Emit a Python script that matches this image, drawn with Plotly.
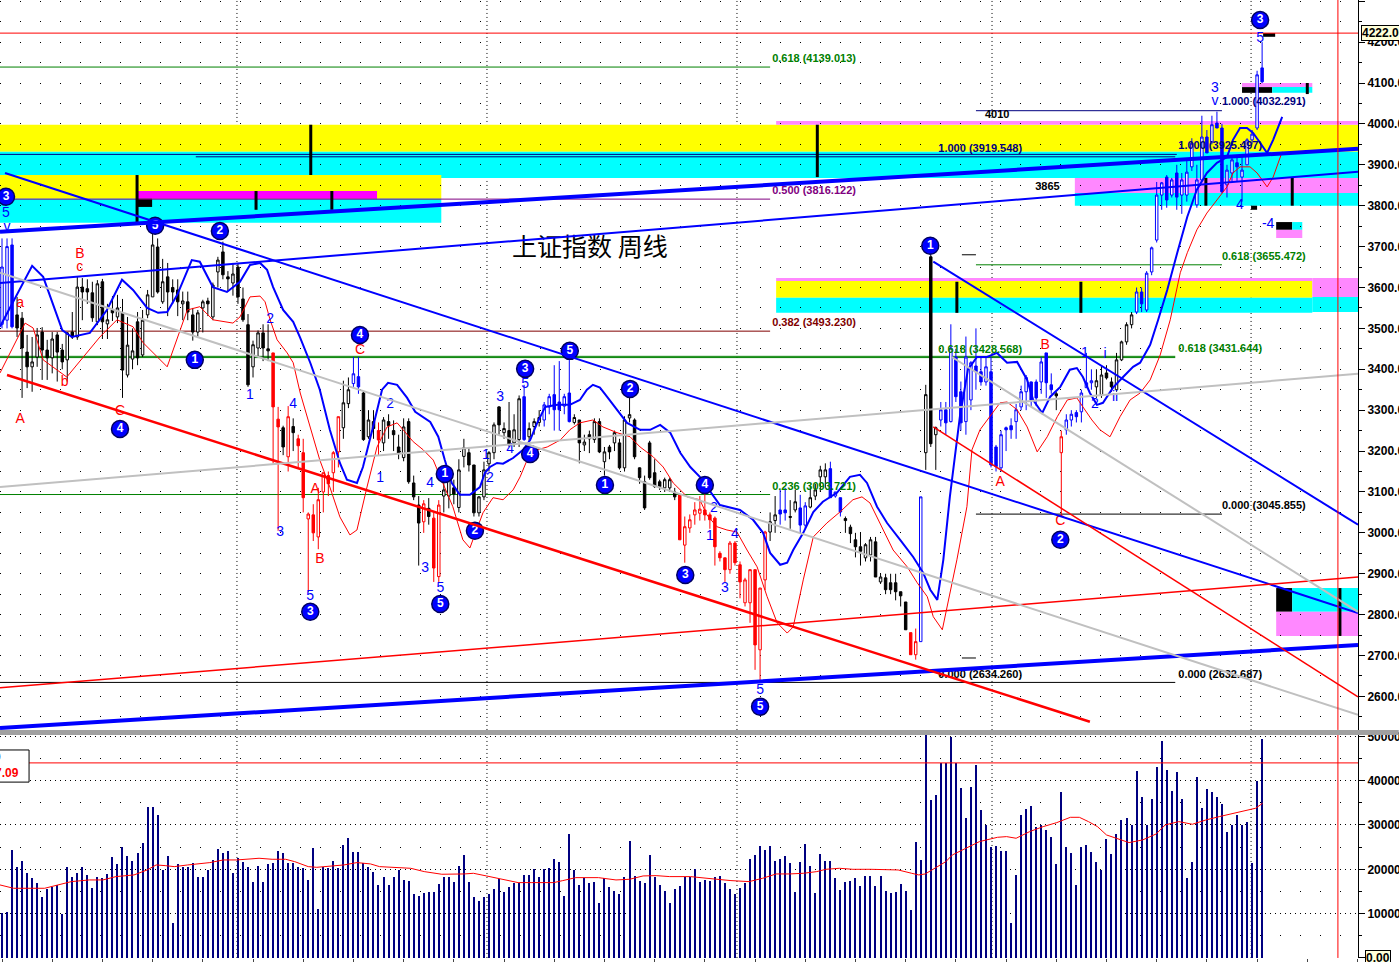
import plotly.graph_objects as go

# ---------------- DATA ----------------
opens = [3510,3520,3704,3533,3525,3442,3406,3430,3491,3447,3428,3484,3447,3423,3491,3479,3601,3597,3587,3516,
         3614,3511,3545,3528,3538,3386,3425,3516,3435,3533,3577,3699,3565,3626,3600,3594,3560,3565,3533,3491,
         3550,3567,3528,3638,3687,3626,3611,3650,3572,3509,3406,3452,3489,3450,3440,3278,3257,3186,3260,3230,
         3196,3034,3044,2990,3100,3140,3147,3198,3257,3316,3365,3382,3342,3235,3272,3250,3220,3272,3250,3210,
         3184,3272,3122,3068,3027,3060,3036,2893,3090,3090,3110,3062,3187,3196,3166,3049,3088,3169,3196,3308,
         3245,3250,3220,3228,3333,3235,3260,3270,3276,3308,3338,3320,3310,3342,3270,3276,3215,3240,3228,3272,
         3174,3210,3220,3220,3159,3281,3276,3159,3125,3220,3147,3125,3110,3110,3100,3093,2970,3012,3044,3048,
         3056,3044,3036,2950,2939,2910,2975,2922,2829,2829,2910,2714,2885,3002,3030,3056,3056,3040,3056,3061,
         3019,3063,3090,3137,3137,3157,3090,3086,3035,3014,2983,2966,2939,2946,2978,2880,2890,2878,2878,2856,
         2831,2756,2702,2734,3196,3675,3240,3276,3301,3272,3430,3345,3272,3325,3408,3394,3369,3394,3210,3159,
         3257,3262,3272,3308,3345,3369,3369,3369,3440,3362,3340,3196,3252,3276,3294,3296,3355,3367,3357,3337,
         3391,3369,3350,3423,3467,3509,3540,3589,3545,3638,3716,3826,3870,3826,3880,3826,3826,3895,3802,3863,
         3968,3956,4002,3990,3851,3880,3905,3870,3900,3961,3990,4137]
highs = [3720,3720,3720,3577,3540,3484,3479,3501,3503,3472,3491,3491,3462,3491,3540,3626,3623,3620,3614,3618,
         3621,3560,3579,3582,3572,3528,3500,3540,3545,3594,3740,3720,3670,3660,3620,3620,3590,3590,3550,3545,
         3570,3575,3612,3675,3712,3640,3660,3660,3600,3535,3470,3495,3510,3510,3440,3308,3262,3310,3280,3240,
         3230,3050,3070,3110,3147,3150,3200,3284,3372,3380,3430,3430,3345,3300,3300,3270,3283,3290,3275,3240,
         3280,3280,3140,3090,3080,3085,3050,3080,3150,3160,3130,3180,3230,3210,3166,3090,3174,3200,3270,3310,
         3270,3320,3290,3336,3362,3270,3280,3300,3320,3340,3410,3420,3340,3440,3290,3276,3240,3250,3280,3280,
         3210,3215,3250,3230,3285,3330,3280,3160,3140,3225,3180,3130,3135,3135,3110,3093,3040,3045,3075,3090,
         3095,3050,3040,2955,2939,2980,2980,2930,2890,2910,2910,2865,3005,3050,3090,3105,3110,3080,3105,3093,
         3075,3115,3120,3164,3170,3174,3100,3086,3040,3020,3000,3000,2975,2990,2990,2900,2900,2900,2900,2856,
         2831,2756,2766,3088,3362,3680,3260,3320,3320,3510,3450,3370,3480,3420,3500,3430,3430,3430,3215,3250,
         3260,3280,3315,3360,3386,3370,3375,3430,3440,3390,3345,3250,3290,3300,3300,3350,3440,3400,3400,3410,
         3410,3380,3440,3470,3515,3540,3600,3600,3640,3700,3858,3858,3875,3868,3900,3880,3910,3965,3900,4020,
         3985,4020,4030,4000,3900,3920,3920,3920,3965,3985,4130,4200]
lows = [3500,3500,3500,3479,3330,3354,3345,3406,3374,3374,3390,3370,3400,3370,3474,3472,3520,3560,3516,3508,
        3474,3474,3518,3513,3330,3380,3400,3410,3430,3525,3577,3585,3560,3530,3560,3530,3520,3520,3470,3480,
        3490,3530,3520,3600,3620,3590,3580,3560,3516,3357,3380,3430,3420,3420,3170,3005,3190,3150,3200,3160,
        3050,2856,2980,2960,3050,3090,3100,3160,3230,3305,3357,3340,3225,3230,3230,3190,3200,3230,3200,3180,
        3175,3120,3080,2920,3000,3020,2880,2880,3050,3060,3070,3050,3160,3150,3040,3040,3080,3150,3180,3240,
        3230,3210,3210,3210,3225,3200,3240,3260,3260,3290,3250,3250,3290,3270,3265,3170,3200,3195,3220,3195,
        3140,3180,3200,3155,3150,3270,3180,3120,3056,3130,3110,3105,3100,3100,3080,2983,2927,3000,3020,3030,
        3030,3010,2920,2930,2880,2900,2920,2840,2820,2780,2665,2638,2860,2980,3000,3020,3030,3010,3050,3000,
        3010,3060,3080,3100,3110,3086,3086,3040,3000,2975,2940,2920,2930,2930,2892,2875,2850,2850,2835,2820,
        2763,2702,2690,2734,3154,3210,3154,3260,3240,3270,3320,3250,3240,3300,3350,3360,3360,3160,3150,3150,
        3200,3230,3230,3300,3300,3310,3310,3340,3330,3340,3300,3040,3240,3260,3270,3270,3355,3350,3330,3330,
        3375,3345,3345,3420,3460,3500,3535,3540,3540,3630,3710,3790,3795,3820,3790,3780,3810,3885,3795,3860,
        3929,3950,3990,3830,3820,3860,3860,3810,3900,3950,3985,4100]
closes = [3650,3700,3504,3501,3452,3406,3418,3484,3447,3428,3474,3442,3418,3489,3479,3601,3589,3589,3526,3609,
          3516,3521,3538,3550,3398,3459,3445,3428,3520,3582,3704,3589,3614,3589,3589,3565,3567,3540,3491,3538,
          3565,3560,3606,3667,3631,3621,3633,3577,3521,3362,3460,3489,3452,3445,3308,3259,3210,3284,3245,3213,
          3086,3046,3000,3081,3147,3120,3196,3284,3318,3350,3389,3357,3228,3276,3255,3227,3276,3262,3240,3195,
          3259,3125,3088,3024,3071,3040,2914,3068,3105,3130,3095,3154,3208,3166,3049,3088,3154,3196,3264,3264,
          3255,3215,3252,3328,3228,3255,3272,3282,3313,3333,3301,3301,3333,3272,3282,3220,3222,3230,3272,3198,
          3198,3198,3245,3159,3276,3289,3186,3135,3061,3135,3113,3113,3130,3130,3088,2983,3015,3032,3056,3058,
          3044,3032,2966,2939,2910,2975,2927,2880,2885,2910,2726,2865,3002,3027,3044,3046,3049,3038,3076,3019,
          3066,3086,3105,3154,3154,3086,3100,3051,3030,2998,2966,2955,2971,2983,2892,2892,2861,2861,2856,2846,
          2763,2702,2734,3088,3338,3218,3257,3301,3269,3452,3333,3269,3430,3416,3394,3369,3406,3166,3162,3240,
          3252,3252,3301,3345,3380,3325,3330,3418,3367,3350,3335,3235,3276,3290,3284,3342,3367,3372,3372,3386,
          3379,3357,3423,3467,3509,3533,3589,3560,3635,3697,3826,3856,3814,3863,3821,3863,3882,3953,3863,3968,
          3929,3998,3990,3834,3887,3912,3895,3887,3961,3975,4120,4103]
# candle colour groups (k = black, r = red, b = blue) as (group, run length)
color_runs = [("b",3),("k",51),("r",2),("k",1),("r",1),("k",1),("r",9),("k",2),("b",2),("k",3),("r",1),
              ("k",8),("r",1),("k",1),("r",2),("k",16),("b",1),("k",3),("b",6),("k",21),("r",18),("k",2),
              ("b",2),("k",2),("b",2),("k",4),("b",3),("k",13),("r",2),("b",1),("k",3),("b",23),("k",1),
              ("r",1),("b",6),("k",8),("b",26)]
volumes = [10100,10450,24370,20600,21880,19100,17970,16850,13840,15490,16090,16470,9850,20600,18350,19100,20600,18730,15720,18350,
           17970,18950,22860,21210,24970,23010,21880,23760,25870,33990,33990,32260,19850,23010,7970,21210,20600,20600,21510,18350,
           18350,19850,22110,24520,23610,24140,19100,22490,21730,20600,17220,20760,17220,21130,21360,24210,23760,21360,21510,20600,
           20230,17600,24740,10980,20600,20230,21880,20230,25490,27000,23990,23990,21360,20600,19480,16470,18350,16470,18350,19850,
           17600,17450,14360,13990,14740,14970,14970,16690,18350,18350,17220,20760,23240,17220,13840,12860,13840,14360,15490,17750,
           14890,16090,17000,16850,18650,18650,20000,18200,20000,20380,22410,21730,13990,27900,19850,16470,18120,17000,17220,12480,
           17970,16090,15190,14360,18350,26400,18570,17370,17000,23240,18350,16470,15120,12330,15490,16240,18350,18350,20000,
           17220,17600,17370,18350,18500,16850,15490,14440,15720,16850,22260,23240,25270,24370,25270,21880,22260,23010,21510,14810,
           21660,25640,20760,14590,23390,21880,21880,18120,15340,17220,17370,18120,16240,18500,18500,16240,18570,15120,14740,14970,
           16690,15120,10830,26250,22110,50700,35650,36770,43920,43920,49930,43920,38280,31510,38650,43540,33390,30010,25120,25270,
           24210,24140,7820,18730,32260,33610,34290,29630,30010,28880,27370,21210,37530,25120,23610,16470,24970,25490,23840,21730,
           19850,26850,23460,27970,31130,31660,30010,42190,36400,30010,35870,43170,48960,42410,37680,42040,35870,17970,21580,40910,
           33770,38050,37450,36400,34740,28500,30010,32260,30010,30760,21360,39930,49330]

# displaced moving averages (week index, price)
blue_ma_x = [-0.4,6.0,8.2,12.0,13.9,17.5,20.9,23.9,26.1,28.9,31.1,32.9,34.9,37.8,39.4,42.0,44.8,47.4,49.4,51.4,52.8,54.0,
             56.0,58.0,59.4,61.4,63.3,65.3,67.3,68.7,70.7,71.9,73.9,75.7,76.9,78.7,80.7,82.3,85.3,86.9,88.2,89.6,91.2,
             93.2,95.2,96.2,97.2,98.6,99.8,101.8,103.8,105.2,106.6,108.2,110.6,113.1,115.1,116.5,117.7,119.1,120.5,
             122.5,124.5,127.1,129.1,131.1,133.1,135.1,137.1,139.0,140.4,143.0,147.0,149.6,151.6,153.0,155.0,156.4,
             157.6,159.6,161.6,163.5,166.3,168.9,170.9,172.3,174.3,176.3,178.9,181.5,183.5,184.9,186.3,187.5,188.8,
             190.8,192.4,194.2,196.2,198.2,200.2,202.2,204.2,205.4,207.2,208.8,210.8,212.7,214.1,215.3,216.7,218.1,
             219.3,221.3,223.3,225.3,226.7,228.7,230.3,232.1,234.1,236.1,238.0,240.0,242.0,244.0,245.2,246.6,248.0,
             249.2,250.6,252.0,253.2,255.0]
blue_ma_y = [3504,3653,3626,3496,3479,3489,3545,3619,3594,3550,3538,3540,3582,3667,3663,3601,3589,3614,3655,3660,3643,3601,
             3545,3516,3477,3416,3350,3252,3171,3130,3122,3161,3259,3350,3367,3362,3330,3296,3271,3235,3178,3122,3093,
             3093,3112,3147,3161,3171,3169,3183,3203,3227,3269,3308,3313,3313,3325,3350,3362,3355,3333,
             3301,3269,3252,3252,3264,3245,3196,3161,3137,3112,3068,3056,3032,3000,2951,2922,2927,
             2958,3000,3051,3076,3098,3137,3142,3122,3064,3024,2983,2941,2902,2861,2836,2934,3088,
             3284,3399,3430,3430,3440,3416,3418,3374,3325,3293,3333,3357,3399,3403,3381,3342,3313,
             3318,3355,3381,3406,3416,3460,3521,3594,3685,3773,3839,3880,3905,3919,3961,3990,3990,
             3978,3954,3929,3961,4017]
red_ma_x = [-0.4,4.6,6.2,8.2,12.9,16.9,19.5,22.9,26.1,28.1,32.9,36.9,39.4,42.0,46.0,47.4,49.4,51.4,52.4,53.4,54.8,56.8,
            58.0,59.4,61.4,63.3,65.3,67.3,69.3,70.7,72.7,74.7,76.7,78.7,79.9,81.9,83.9,85.9,87.8,89.8,91.8,93.2,93.8,
            95.8,97.8,99.8,101.8,103.2,104.6,106.6,108.6,111.2,113.1,115.1,117.7,119.7,122.5,125.1,127.1,129.7,131.7,
            133.7,136.5,139.0,140.4,142.4,144.4,146.4,148.4,150.4,152.4,154.4,156.4,157.6,159.6,161.6,164.3,166.9,
            169.5,171.3,172.9,174.9,177.5,180.3,182.3,184.3,185.5,187.3,190.2,192.2,193.2,194.8,196.8,198.8,200.2,
            202.2,204.2,206.2,208.2,210.2,212.2,214.1,215.3,217.1,218.7,220.7,222.7,224.7,226.7,228.7,230.7,232.7,
            234.7,236.1,238.0,240.0,242.0,244.0,245.2,246.6,248.6,250.0,252.0,253.2,255.0]
red_ma_y = [3391,3513,3501,3423,3381,3440,3479,3521,3504,3465,3406,3545,3553,3521,3513,3528,3577,3579,3565,3521,3472,3440,
            3416,3342,3259,3178,3112,3039,2995,3007,3112,3210,3259,3269,3252,3223,3203,3178,3122,3064,2983,2963,2983,
            3049,3086,3081,3105,3137,3178,3203,3210,3227,3252,3269,3276,3259,3245,3235,3210,3186,3161,
            3122,3088,3081,3044,3015,3007,3002,2958,2917,2844,2780,2755,2770,2885,2990,3024,3051,
            3081,3088,3073,3024,2958,2917,2878,2844,2795,2763,2934,3064,3203,3252,3284,3318,3320,
            3301,3259,3198,3235,3284,3325,3330,3308,3276,3252,3235,3284,3325,3342,3374,3435,3521,
            3636,3685,3741,3782,3814,3846,3880,3895,3895,3880,3846,3870,3932]
vol_ma_x = [-0.4,2.3,8.5,11.2,13.8,17.4,20.1,22.7,26.3,28.9,30.7,32.5,34.3,37.0,38.7,41.4,44.1,46.7,49.4,51.2,53.8,56.5,
            58.3,61.0,62.7,65.4,68.1,70.7,73.4,75.2,79.6,81.4,84.1,87.6,92.1,93.9,96.5,99.2,102.8,105.4,109.9,111.7,
            114.3,118.8,122.3,125.0,127.7,130.3,133.0,137.1,139.8,142.4,145.2,148.8,151.5,154.2,156.9,159.6,162.3,
            164.1,166.8,169.5,173.1,175.8,178.5,181.2,182.6,183.9,186.2,188.0,189.3,192.0,194.7,198.3,200.1,202.0,
            204.7,207.4,210.1,212.8,214.6,216.4,218.2,220.0,221.8,224.5,227.2,229.9,231.7,234.4,237.1,239.8,242.5,
            245.2,247.9,249.7,251.1]
vol_ma_y = [16470,15720,15720,16470,17220,17600,17600,18350,18730,19850,20980,20830,20600,20980,21210,21510,22110,22110,
            22330,22490,22260,22260,21730,20600,20450,20760,20980,21510,21210,20600,20450,20230,19480,18880,18950,19100,
            18500,17820,17000,17000,17000,17450,18120,18120,17600,17750,18500,18570,18350,18350,17970,17750,17450,17220,
            17970,18950,18950,19100,19480,20000,20230,20000,20000,20000,19850,19100,18730,18950,20600,21730,23240,24740,
            26250,27220,27370,27000,28500,29630,30530,31730,31730,30760,29630,27750,27000,26020,26620,27970,30010,30760,
            30160,31130,31890,32640,33390,33770,34890]

# analyst drawings: trend lines (week0, price0, week1, price1, colour, width)
trend_lines = [(-0.4,3736,270.1,3939,"#0000ff",4),(-0.4,3611,270.1,3883,"#0000ff",2),
               (-0.4,2523,270.1,2726,"#0000ff",4),(0.6,3880,270.1,2804,"#0000ff",2),
               (185.5,3663,270.1,3020,"#0000ff",2),(1.0,3386,216.7,2538,"#ff0000",2.5),
               (-0.4,2621,270.1,2892,"#ff0000",1.5),(185.5,3259,270.1,2599,"#ff0000",1.5),
               (-0.4,3636,270.1,2555,"#c0c0c0",2),(-0.4,3112,270.1,3389,"#c0c0c0",2),
               (189.2,3430,270.1,2807,"#c0c0c0",2)]
# horizontal levels (week0, week1, price, colour)
levels = [(-0.4,270.1,4222.0,"#ff0000"),(-0.4,153.0,4139.013,"#008000"),(-0.4,153.0,3816.122,"#800080"),
          (-0.4,153.0,3493.230,"#800000"),(-0.4,153.0,3093.721,"#008000"),(-0.4,233.7,3428.568,"#008000"),
          (-0.4,233.7,3431.644,"#008000"),(38.6,233.7,3919.548,"#000080"),(-0.4,234.0,3925.497,"#000080"),
          (-0.4,233.7,2634.260,"#000000"),(194.0,243.0,4032.291,"#000080"),(194.0,243.0,3655.472,"#008000"),
          (194.0,243.0,3045.855,"#000000"),(191.2,194.0,3680,"#000000"),(191.2,194.0,2694,"#000000")]
# coloured zones (week0, week1, price0, price1, colour)
zones = [(-0.4,270.1,3932,3998,"#ffff00"),(-0.4,270.1,3868,3932,"#00ffff"),(154.2,270.1,3998,4007,"#ff88ff"),
         (-0.4,87.5,3817,3875,"#ffff00"),(-0.4,87.5,3758,3817,"#00ffff"),(26.9,74.7,3817,3836,"#ff00ff"),
         (213.7,270.1,3831,3868,"#ff88ff"),(213.7,270.1,3800,3831,"#00ffff"),
         (154.2,261.0,3616,3623,"#ff88ff"),(154.2,261.0,3575,3616,"#ffff00"),(154.2,261.0,3538,3575,"#00ffff"),
         (261.0,270.1,3577,3623,"#ff88ff"),(261.0,270.1,3540,3577,"#00ffff"),
         (247.0,261.0,4090,4100,"#ff88ff"),(247.0,253.0,4076,4090,"#000000"),(253.0,261.0,4076,4090,"#00ffff"),
         (253.8,257.0,3741,3760,"#000000"),(257.0,259.0,3741,3760,"#00ffff"),(253.8,259.0,3721,3741,"#ff88ff"),
         (253.8,257.0,2807,2865,"#000000"),(257.0,270.1,2807,2865,"#00ffff"),(253.8,270.1,2748,2807,"#ff88ff"),
         (26.9,29.9,3797,3817,"#000000"),(248.8,250.0,3790,3800,"#000000"),(251.2,253.6,4213,4222,"#000000")]
# black vertical markers (week, price0, price1)
markers = [(26.9,3758,3875),(61.5,3875,3998),(50.6,3790,3836),(65.7,3790,3836),(162.4,3870,3998),
           (190.2,3538,3614),(214.9,3538,3614),(257.0,3800,3868),(239.8,3800,3868),(260.0,4073,4100),
           (266.5,2748,2865)]
year_lines = [46.8, 96.6, 146.4, 197.2, 248.8]
now_week = 266.1
vol_ref = 44000

# Elliott wave labels
circ_x = [0.8,30.5,43.4,38.4,23.5,71.3,61.4,87.3,88.2,94.2,104.2,105.2,113.1,125.1,120.1,136.1,140.0,151.0,184.9,210.8,250.6]
circ_y = [3822,3751,3738,3423,3254,3484,2807,2826,3144,3005,3401,3193,3445,3352,3117,2897,3117,2575,3702,2983,4254]
circ_t = ["3","5","2","1","4","4","3","5","1","2","3","4","5","2","1","3","4","5","1","2","3"]
blue_lab_x = [0.8,1.0,49.4,53.4,55.4,58.0,61.4,75.3,77.3,84.3,85.3,87.3,96.4,97.2,99.2,101.2,104.2,141.0,141.8,144.0,
              146.0,151.0,215.7,219.7,221.7,217.7,241.6,241.6,246.6,252.2,250.6]
blue_lab_y = [3782,3746,3337,3521,3000,3313,2844,3134,3315,2914,3120,2865,3188,3134,3330,3203,3362,2990,3059,2863,
              2995,2614,3438,3435,3330,3313,4086,4054,3800,3753,4210]
blue_lab_t = ["5","v","1","2","3","4","5","1","2","3","4","5","1","2","3","4","5","1","2","3",
              "4","5","1","i","ii","2","3","v","4","-4","5"]
red_lab_x = [3.6,15.5,15.5,12.5,3.6,23.5,71.3,62.4,63.3,207.8,198.8,210.8]
red_lab_y = [3562,3680,3648,3367,3276,3296,3445,3105,2936,3457,3122,3027]
red_lab_t = ["a","B","c","b","A","C","C","A","B","B","A","C"]
fib_x = [153.4,186.5,153.4,153.4,186.5,153.4,186.5,243.0,234.3,243.0,234.3,243.0,234.3,195.8,205.8]
fib_y = [4159,3939,3836,3513,3447,3112,2653,4054,3946,3675,3450,3066,2653,4022,3846]
fib_t = ["0.618 (4139.013)","1.000 (3919.548)","0.500 (3816.122)","0.382 (3493.230)","0.618 (3428.568)",
         "0.236 (3093.721)","0.000 (2634.260)","1.000 (4032.291)","1.000 (3925.497)","0.618 (3655.472)",
         "0.618 (3431.644)","0.000 (3045.855)","0.000 (2632.687)","4010","3865"]
fib_c = ["#008000","#000080","#800080","#800000","#008000","#008000","#000000","#000080","#000080","#008000",
         "#008000","#000000","#000000","#000000","#000000"]
title_text = "上证指数 周线"

# ---------------- FIGURE ----------------
weeks = list(range(len(closes)))
groups = []
for g, n in color_runs:
    groups += [g] * n

fig = go.Figure()
XR = [-0.4, 270.1]

line_cols = {"k": "#000000", "r": "#ff0000", "b": "#0000ff"}
for g, col in line_cols.items():
    idx = [i for i in weeks if groups[i] == g]
    fig.add_trace(go.Candlestick(
        x=idx, open=[opens[i] for i in idx], high=[highs[i] for i in idx],
        low=[lows[i] for i in idx], close=[closes[i] for i in idx],
        increasing=dict(fillcolor="#ffffff", line=dict(color=col, width=1)),
        decreasing=dict(fillcolor=col, line=dict(color=col, width=1)),
        whiskerwidth=0, hoverinfo="skip", showlegend=False, xaxis="x", yaxis="y"))

fig.add_trace(go.Scatter(x=red_ma_x, y=red_ma_y, mode="lines", line=dict(color="#ff0000", width=1),
                         hoverinfo="skip", showlegend=False, xaxis="x", yaxis="y"))
fig.add_trace(go.Scatter(x=blue_ma_x, y=blue_ma_y, mode="lines", line=dict(color="#0000ff", width=2),
                         hoverinfo="skip", showlegend=False, xaxis="x", yaxis="y"))

# wave labels
fig.add_trace(go.Scatter(x=blue_lab_x, y=blue_lab_y, mode="text", text=blue_lab_t,
                         textfont=dict(color="#0000ff", size=14, family="Liberation Sans"),
                         hoverinfo="skip", showlegend=False))
fig.add_trace(go.Scatter(x=red_lab_x, y=red_lab_y, mode="text", text=red_lab_t,
                         textfont=dict(color="#ff0000", size=14, family="Liberation Sans"),
                         hoverinfo="skip", showlegend=False))
fig.add_trace(go.Scatter(x=circ_x, y=circ_y, mode="markers+text", text=circ_t,
                         marker=dict(size=17, color="#0000ff", line=dict(color="#000060", width=1.5)),
                         textfont=dict(color="#ffffff", size=12, family="Liberation Sans", weight="bold"),
                         textposition="middle center", hoverinfo="skip", showlegend=False))
fig.add_trace(go.Scatter(x=fib_x, y=fib_y, mode="text", text=fib_t, textposition="middle right",
                         textfont=dict(color=fib_c, size=11, family="Liberation Sans", weight="bold"),
                         hoverinfo="skip", showlegend=False))
fig.add_trace(go.Scatter(x=[117.1], y=[3692], mode="text", text=[title_text],
                         textfont=dict(color="#000000", size=25, family="Noto Sans CJK SC"),
                         hoverinfo="skip", showlegend=False))

# volume
fig.add_trace(go.Bar(x=weeks, y=volumes, width=0.22, marker=dict(color="#000080", line=dict(width=0)),
                     hoverinfo="skip", showlegend=False, xaxis="x2", yaxis="y2"))
fig.add_trace(go.Scatter(x=vol_ma_x, y=vol_ma_y, mode="lines", line=dict(color="#ff0000", width=1),
                         hoverinfo="skip", showlegend=False, xaxis="x2", yaxis="y2"))

shapes = []
for x0, x1, p0, p1, c in zones:
    shapes.append(dict(type="rect", xref="x", yref="y", x0=x0, x1=x1, y0=p0, y1=p1,
                       fillcolor=c, line=dict(width=0), layer="below"))
for x0, x1, p, c in levels:
    shapes.append(dict(type="line", xref="x", yref="y", x0=x0, x1=x1, y0=p, y1=p,
                       line=dict(color=c, width=1), layer="below"))
for x in year_lines:
    for yr in ("y", "y2"):
        shapes.append(dict(type="line", xref="x", yref=yr + " domain", x0=x, x1=x, y0=0, y1=1,
                           line=dict(color="#000000", width=1, dash="1px,3px"), layer="below"))
for x, p0, p1 in markers:
    shapes.append(dict(type="line", xref="x", yref="y", x0=x, x1=x, y0=p0, y1=p1,
                       line=dict(color="#000000", width=3)))
for x0, p0, x1, p1, c, w in trend_lines:
    shapes.append(dict(type="line", xref="x", yref="y", x0=x0, x1=x1, y0=p0, y1=p1,
                       line=dict(color=c, width=w)))
# current week marker & volume reference
shapes.append(dict(type="line", xref="x", yref="y domain", x0=now_week, x1=now_week, y0=0, y1=1,
                   line=dict(color="#ff0000", width=1)))
shapes.append(dict(type="line", xref="x", yref="y2 domain", x0=now_week, x1=now_week, y0=0, y1=1,
                   line=dict(color="#ff0000", width=1)))
shapes.append(dict(type="line", xref="x2", yref="y2", x0=XR[0], x1=XR[1], y0=vol_ref, y1=vol_ref,
                   line=dict(color="#ff0000", width=1)))
# panel separator
shapes.append(dict(type="rect", xref="paper", yref="paper", x0=0, x1=1.03, y0=0.2360, y1=0.2412,
                   fillcolor="#a0a0a0", line=dict(width=0)))
# volume legend box
shapes.append(dict(type="rect", xref="paper", yref="paper", x0=-0.01, x1=0.0214, y0=0.187, y1=0.2204,
                   fillcolor="#ffffff", line=dict(color="#000000", width=1)))

annotations = [
    dict(xref="paper", yref="y", x=1.0025, y=4222, text="<b>4222.00</b>", showarrow=False, xanchor="left",
         yanchor="middle", bgcolor="#ffffd8", bordercolor="#000000", borderwidth=1, borderpad=0,
         font=dict(size=12, color="#000000", family="Liberation Sans")),
    dict(xref="paper", yref="y2", x=1.0055, y=0, text="<b>0.00</b>", showarrow=False, xanchor="left",
         yanchor="middle", bgcolor="#ffffd8", bordercolor="#000000", borderwidth=1, borderpad=0,
         font=dict(size=12, color="#000000", family="Liberation Sans")),
    dict(xref="paper", yref="paper", x=0.0155, y=0.196, text="<b>7.09</b>", showarrow=False, xanchor="right",
         yanchor="middle", font=dict(size=12, color="#ff0000", family="Liberation Sans")),
    dict(xref="paper", yref="paper", x=0.002, y=0.213, text="<b>0</b>", showarrow=False, xanchor="right",
         yanchor="middle", font=dict(size=12, color="#0000ff", family="Liberation Sans")),
]

axis_font = dict(size=12, color="#000000", family="Liberation Sans", weight="bold")
fig.update_layout(
    width=1399, height=962, margin=dict(l=0, r=41, t=0, b=0, autoexpand=False),
    paper_bgcolor="#ffffff", plot_bgcolor="#ffffff", showlegend=False,
    shapes=shapes, annotations=annotations, bargap=0,
    xaxis=dict(domain=[0, 1], range=XR, anchor="y", showticklabels=False, showgrid=False, zeroline=False,
               rangeslider=dict(visible=False), fixedrange=True, automargin=False),
    xaxis2=dict(domain=[0, 1], range=XR, anchor="y2", matches="x", showticklabels=False, showgrid=False,
                zeroline=False, ticks="outside", ticklen=3, dtick=10, automargin=False),
    yaxis=dict(domain=[0.2412, 1.0], range=[2518, 4303], anchor="x", side="right", dtick=100, tick0=0,
               tickformat=".2f", ticks="outside", ticklen=6, tickcolor="#000000", showline=True,
               linecolor="#000000", linewidth=1, showgrid=True, gridcolor="#000000", griddash="1px,19px",
               gridwidth=1, zeroline=False, tickfont=axis_font, automargin=False,
               minor=dict(dtick=50, showgrid=True, gridcolor="#000000", griddash="1px,19px", ticks="outside",
                          ticklen=3, tickcolor="#000000")),
    yaxis2=dict(domain=[0.0042, 0.2360], range=[0, 50300], anchor="x2", side="right", dtick=10000,
                tickformat=".2f", ticks="outside", ticklen=6, tickcolor="#000000", showline=True,
                linecolor="#000000", linewidth=1, showgrid=True, gridcolor="#000000", griddash="1px,4px",
                zeroline=False, tickfont=axis_font, automargin=False,
                minor=dict(dtick=5000, showgrid=True, gridcolor="#000000", griddash="1px,19px", ticks="outside",
                           ticklen=3, tickcolor="#000000")),
)

fig.write_html("out.html", config={"displayModeBar": False, "responsive": False},
               post_script="document.body.style.margin='0';document.body.style.overflow='hidden';")
